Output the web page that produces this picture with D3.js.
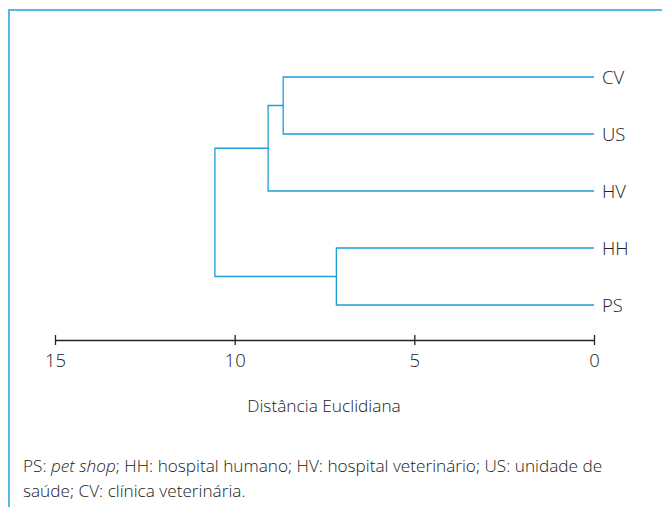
<!DOCTYPE html>
<html><head><meta charset="utf-8">
<script src="https://cdn.jsdelivr.net/npm/d3@7"></script>
<style>
body{margin:0;background:#fff;}
svg{display:block;font-family:"Open Sans",sans-serif;}
</style></head>
<body><svg id="c" width="662" height="507"></svg>
<script>
const leaves = ["CV","US","HV","HH","PS"];
const mergeIds = ["A","B","C","R"];
const mergeLeft = ["CV","A","HH","B"];
const mergeRight = ["US","HV","PS","C"];
const mergeHeights = [8.65, 9.07, 7.17, 10.55];
const tickValues = [15,10,5,0];
const axisTitle = "Distância Euclidiana";

const blue = "#1d9fd6";
const txt = "#222";
const svg = d3.select("#c");

// frame
svg.append("line").attr("x1",9).attr("x2",662).attr("y1",10).attr("y2",10).attr("stroke","#5bb8e3").attr("stroke-width",2);
svg.append("line").attr("x1",9).attr("x2",9).attr("y1",9).attr("y2",507).attr("stroke","#5bb8e3").attr("stroke-width",2);

const x = d3.scaleLinear().domain([15,0]).range([55,594]);
const y = d3.scalePoint().domain(leaves).range([77,305]);

const pos = {};
leaves.forEach(l => pos[l] = {x: x(0), y: y(l)});
const g = svg.append("g").attr("fill","none").attr("stroke",blue).attr("stroke-width",1.3);
mergeIds.forEach((id,i) => {
  const a = pos[mergeLeft[i]], b = pos[mergeRight[i]];
  const hx = x(mergeHeights[i]);
  g.append("path").attr("d",`M${a.x},${a.y}H${hx}V${b.y}H${b.x}`);
  pos[id] = {x: hx, y: (a.y+b.y)/2};
});

svg.selectAll("text.leaf").data(leaves).join("text").attr("class","leaf")
  .attr("x",602).attr("y",d=>y(d)).attr("dy","0.36em")
  .attr("font-size",18.5).attr("font-weight",300).attr("fill",txt).text(d=>d);

// axis
const ax = svg.append("g").attr("transform","translate(0,340)")
  .call(d3.axisBottom(x).tickValues(tickValues).tickSizeOuter(0).tickSizeInner(5).tickPadding(9).tickFormat(d3.format("d")));
ax.select(".domain").attr("stroke","#222").attr("stroke-width",1.3);
ax.selectAll(".tick line").attr("y1",-5).attr("y2",5).attr("stroke","#222").attr("stroke-width",1.3);
ax.selectAll(".tick text").attr("font-size",18.5).attr("font-weight",300).attr("fill",txt).attr("font-family","Open Sans, sans-serif");

svg.append("text").attr("x",324).attr("y",412).attr("text-anchor","middle")
  .attr("font-size",17.3).attr("font-weight",300).attr("fill",txt).text(axisTitle);

// footnote
const fn = svg.append("text").attr("x",23).attr("y",472).attr("font-size",17.2).attr("font-weight",300).attr("fill",txt);
fn.append("tspan").text("PS: ");
fn.append("tspan").attr("font-style","italic").text("pet shop");
fn.append("tspan").text("; HH: hospital humano; HV: hospital veterinário; US: unidade de");
svg.append("text").attr("x",23).attr("y",497).attr("font-size",17.2).attr("font-weight",300).attr("fill",txt)
  .text("saúde; CV: clínica veterinária.");
</script></body></html>
